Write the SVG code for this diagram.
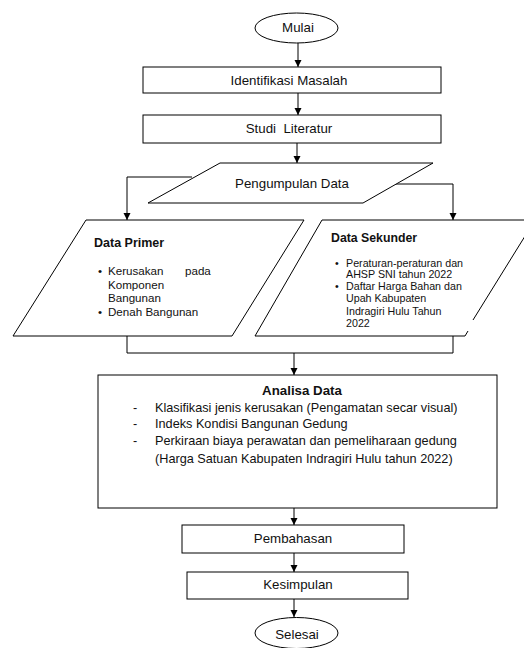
<svg xmlns="http://www.w3.org/2000/svg" width="524" height="648" viewBox="0 0 524 648">
<defs>
<marker id="ah" markerUnits="userSpaceOnUse" markerWidth="8" markerHeight="8" refX="7" refY="3.5" orient="auto">
<path d="M0,0 L7,3.5 L0,7 Z" fill="#000"/>
</marker>
<style>
.s{fill:#fff;stroke:#000;stroke-width:1}
.c{fill:none;stroke:#000;stroke-width:1}
.t{font-family:"Liberation Sans",Arial,sans-serif;font-size:13.3px;fill:#111;text-anchor:middle}
.b{font-family:"Liberation Sans",Arial,sans-serif;font-weight:bold;fill:#111}
.p{font-family:"Liberation Sans",Arial,sans-serif;font-size:11.6px;fill:#111}
.k{font-family:"Liberation Sans",Arial,sans-serif;font-size:10.7px;fill:#111}
.a{font-family:"Liberation Sans",Arial,sans-serif;font-size:12.7px;fill:#111}
</style>
</defs>
<rect width="524" height="648" fill="#fff"/>
<g id="connectors">
<line class="c" x1="298" y1="43" x2="298" y2="67" marker-end="url(#ah)"/>
<line class="c" x1="298" y1="93" x2="298" y2="115" marker-end="url(#ah)"/>
<line class="c" x1="297" y1="143" x2="297" y2="163" marker-end="url(#ah)"/>
<polyline class="c" points="192,177 127,177 127,220" marker-end="url(#ah)"/>
<polyline class="c" points="393,184 453,184 453,220" marker-end="url(#ah)"/>
<polyline class="c" points="127,336 127,353 453,353 453,336"/>
<line class="c" x1="294" y1="353" x2="294" y2="375" marker-end="url(#ah)"/>
<line class="c" x1="294" y1="508" x2="294" y2="525" marker-end="url(#ah)"/>
<line class="c" x1="294" y1="553" x2="294" y2="572" marker-end="url(#ah)"/>
<line class="c" x1="294" y1="599" x2="294" y2="617" marker-end="url(#ah)"/>
</g>
<g id="mulai">
<ellipse class="s" cx="296.5" cy="28" rx="41.5" ry="15"/>
<text class="t" x="298" y="32">Mulai</text>
</g>
<g id="identifikasi">
<rect class="s" x="143" y="67" width="298" height="26"/>
<text class="t" x="289" y="85">Identifikasi Masalah</text>
</g>
<g id="studi">
<rect class="s" x="143" y="115" width="298" height="28"/>
<text class="t" x="289" y="133" xml:space="preserve">Studi  Literatur</text>
</g>
<g id="pengumpulan">
<polygon class="s" points="220,163 433,163 363,203 148,203"/>
<text class="t" x="292" y="188">Pengumpulan Data</text>
</g>
<g id="primer">
<polygon class="s" points="86,220 304,220 232,336 13,336"/>
<text class="b" x="94" y="246.5" font-size="12.5">Data Primer</text>
<text class="p" x="98" y="275">•</text>
<text class="p" y="275"><tspan x="108">Kerusakan</tspan><tspan x="185">pada</tspan></text>
<text class="p" x="108" y="289">Komponen</text>
<text class="p" x="108" y="302">Bangunan</text>
<text class="p" x="98" y="316">•</text>
<text class="p" x="108" y="316">Denah Bangunan</text>
</g>
<g id="sekunder">
<polygon points="322,220 535,220 465,336 255,336" fill="#fff" stroke="none"/>
<path class="c" d="M255,336 L322,220 L535,220 L473,320 M468,331 L465,336 L255,336"/>
<text class="b" x="331" y="241.5" font-size="12.3">Data Sekunder</text>
<text class="k" x="335" y="266.5">•</text>
<text class="k" x="346" y="266.5">Peraturan-peraturan dan</text>
<text class="k" x="346" y="278">AHSP SNI tahun 2022</text>
<text class="k" x="335" y="290">•</text>
<text class="k" x="346" y="290">Daftar Harga Bahan dan</text>
<text class="k" x="346" y="302">Upah Kabupaten</text>
<text class="k" x="346" y="314.5">Indragiri Hulu Tahun</text>
<text class="k" x="346" y="327">2022</text>
</g>
<g id="analisa">
<rect class="s" x="98" y="375" width="399" height="133"/>
<text class="b" x="302" y="395" font-size="13.3" text-anchor="middle">Analisa Data</text>
<text class="a" x="133" y="411.5">-</text>
<text class="a" x="155" y="411.5">Klasifikasi jenis kerusakan (Pengamatan secar visual)</text>
<text class="a" x="133" y="428">-</text>
<text class="a" x="155" y="428">Indeks Kondisi Bangunan Gedung</text>
<text class="a" x="133" y="444.5">-</text>
<text class="a" x="155" y="444.5">Perkiraan biaya perawatan dan pemeliharaan gedung</text>
<text class="a" x="155" y="462.5">(Harga Satuan Kabupaten Indragiri Hulu tahun 2022)</text>
</g>
<g id="pembahasan">
<rect class="s" x="182" y="525" width="222" height="28"/>
<text class="t" x="293" y="543">Pembahasan</text>
</g>
<g id="kesimpulan">
<rect class="s" x="187" y="572" width="221" height="27"/>
<text class="t" x="298" y="589">Kesimpulan</text>
</g>
<g id="selesai">
<ellipse class="s" cx="296.5" cy="633" rx="41.5" ry="15.5"/>
<text class="t" x="297" y="638.5">Selesai</text>
</g>
</svg>
